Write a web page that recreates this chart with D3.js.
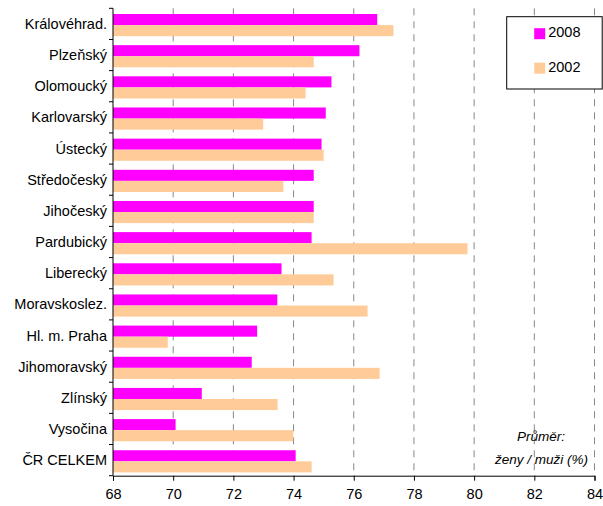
<!DOCTYPE html>
<html>
<head>
<meta charset="utf-8">
<script src="https://cdn.jsdelivr.net/npm/d3@7"></script>
<style>
  body { margin: 0; background: #fff; }
  text { font-family: "Liberation Sans", Arial, sans-serif; }
</style>
</head>
<body>
<div id="chart"></div>
<script>
var regions = ["Královéhrad.", "Plzeňský", "Olomoucký", "Karlovarský", "Ústecký",
    "Středočeský", "Jihočeský", "Pardubický", "Liberecký", "Moravskoslez.",
    "Hl. m. Praha", "Jihomoravský", "Zlínský", "Vysočina", "ČR CELKEM"];
var values2008 = [76.78, 76.19, 75.26, 75.07, 74.93, 74.67, 74.67, 74.60, 73.60, 73.46,
    72.79, 72.61, 70.95, 70.08, 74.07];
var values2002 = [77.32, 74.67, 74.40, 72.99, 75.00, 73.66, 74.67, 79.78, 75.33, 76.46,
    69.82, 76.86, 73.47, 73.99, 74.60];
var seriesNames = ["2008", "2002"];
var xTicks = [68, 70, 72, 74, 76, 78, 80, 82, 84];

(function() {
    var width = 603, height = 506;
    var margin = {top: 8.3, left: 113, right: 8.5, bottom: 30.3};
    var innerW = width - margin.left - margin.right,
        innerH = height - margin.top - margin.bottom;

    var svg = d3.select('#chart')
        .append('svg')
        .attr('width', width)
        .attr('height', height)
        .append('g')
        .attr('transform', 'translate(' + margin.left + ',' + margin.top + ')');

    var x = d3.scaleLinear().domain([68, 84]).range([0, innerW]);
    var y = d3.scaleBand().domain(regions).range([0, innerH]);
    var sub = d3.scaleBand().domain(seriesNames)
        .range([5.7, y.bandwidth() - 3.3]);
    var color = d3.scaleOrdinal().domain(seriesNames).range(["#ff00ff", "#ffcc99"]);

    // dashed gridlines
    svg.selectAll('.grid')
        .data(xTicks.slice(1))
        .enter().append('line')
        .attr('class', 'grid')
        .attr('x1', function(d) { return x(d) })
        .attr('x2', function(d) { return x(d) })
        .attr('y1', 0)
        .attr('y2', innerH)
        .attr('stroke', '#888')
        .attr('stroke-width', 1)
        .attr('stroke-dasharray', '7,6')

    var data = regions.map(function(r, i) {
        return {region: r, vals: [
            {key: "2008", v: values2008[i]},
            {key: "2002", v: values2002[i]}
        ]};
    });

    var groups = svg.selectAll('.grp')
        .data(data)
        .enter().append('g')
        .attr('class', 'grp')
        .attr('transform', function(d) { return 'translate(0,' + y(d.region) + ')' });

    groups.selectAll('rect')
        .data(function(d) { return d.vals })
        .enter().append('rect')
        .attr('x', 0)
        .attr('y', function(d) { return sub(d.key) })
        .attr('height', sub.bandwidth())
        .attr('width', function(d) { return x(d.v) - x(68) })
        .attr('fill', function(d) { return color(d.key) })

    // x axis
    var xAxis = svg.append('g')
        .attr('transform', 'translate(0,' + innerH + ')')
        .call(d3.axisBottom(x).tickValues(xTicks).tickSize(5).tickPadding(8));
    xAxis.selectAll('text').attr('font-size', '14.5px').attr('fill', '#000')
        .style('font-family', '"Liberation Sans", Arial, sans-serif');
    xAxis.select('.domain').attr('stroke', '#000');
    xAxis.selectAll('.tick line').attr('stroke', '#000');

    // y axis with ticks at band boundaries
    svg.append('line')
        .attr('x1', 0).attr('x2', 0).attr('y1', 0).attr('y2', innerH)
        .attr('stroke', '#000');
    svg.selectAll('.ytick')
        .data(regions.concat(['end']))
        .enter().append('line')
        .attr('class', 'ytick')
        .attr('x1', -4).attr('x2', 0)
        .attr('y1', function(d, i) { return i * y.step() })
        .attr('y2', function(d, i) { return i * y.step() })
        .attr('stroke', '#000');
    svg.selectAll('.ylab')
        .data(regions)
        .enter().append('text')
        .attr('class', 'ylab')
        .attr('x', -6)
        .attr('y', function(d) { return y(d) + y.bandwidth() / 2 })
        .attr('dy', '0.35em')
        .attr('text-anchor', 'end')
        .attr('font-size', '14.5px')
        .text(function(d) { return d });

    // legend
    var lg = svg.append('g')
        .attr('transform', 'translate(' + (506.7 - margin.left) + ',' + (16.7 - margin.top) + ')');
    lg.append('rect')
        .attr('width', 95.5).attr('height', 72.3)
        .attr('fill', '#fff').attr('stroke', '#000').attr('stroke-width', 1);
    seriesNames.forEach(function(s, i) {
        lg.append('rect')
            .attr('x', 27.5).attr('y', 11.5 + i * 34.5)
            .attr('width', 11).attr('height', 11)
            .attr('fill', color(s));
        lg.append('text')
            .attr('x', 41.5).attr('y', 15.5 + i * 34.5)
            .attr('dy', '0.35em')
            .attr('font-size', '14.5px')
            .text(s);
    });

    // note
    svg.append('text')
        .attr('x', 565 - margin.left).attr('y', 441.5 - margin.top)
        .attr('text-anchor', 'end')
        .attr('font-size', '13.5px')
        .attr('font-style', 'italic')
        .text('Průměr:');
    svg.append('text')
        .attr('x', 588 - margin.left).attr('y', 464 - margin.top)
        .attr('text-anchor', 'end')
        .attr('font-size', '13.5px')
        .attr('font-style', 'italic')
        .text('ženy / muži (%)');
})();
</script>
</body>
</html>
